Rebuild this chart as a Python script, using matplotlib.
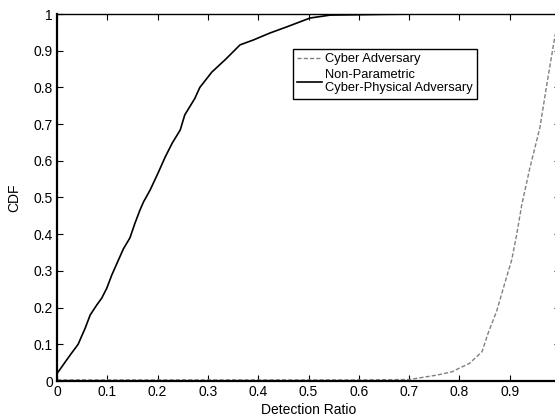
import numpy as np
import matplotlib
matplotlib.use("Agg")
from matplotlib import pyplot as plt
from matplotlib.ticker import FormatStrFormatter

# Non-parametric cyber-physical adversary CDF
cps_x = [0.0, 0.019, 0.029, 0.042, 0.056, 0.066, 0.079, 0.089, 0.099, 0.109,
         0.119, 0.132, 0.145, 0.155, 0.165, 0.172, 0.185, 0.201, 0.215,
         0.229, 0.245, 0.254, 0.274, 0.284, 0.308, 0.334, 0.364, 0.39,
         0.423, 0.457, 0.503, 0.543, 0.60, 0.65, 0.73]
cps_y = [0.02, 0.057, 0.076, 0.10, 0.144, 0.18, 0.207, 0.226, 0.253, 0.289,
         0.32, 0.36, 0.39, 0.43, 0.466, 0.488, 0.52, 0.567, 0.61,
         0.648, 0.684, 0.725, 0.77, 0.80, 0.842, 0.875, 0.916, 0.929,
         0.948, 0.965, 0.989, 0.997, 0.998, 0.999, 1.0]

# Cyber adversary CDF
cyb_x = [0.0, 0.3, 0.6, 0.70, 0.755, 0.785, 0.80, 0.82, 0.845, 0.857, 0.874,
         0.891, 0.904, 0.914, 0.924, 0.94, 0.96, 0.974, 0.99, 1.0]
cyb_y = [0.003, 0.003, 0.003, 0.004, 0.016, 0.025, 0.035, 0.048, 0.08, 0.13,
         0.19, 0.27, 0.33, 0.40, 0.48, 0.58, 0.69, 0.81, 0.94, 1.0]

labels = ["Cyber Adversary", "Non-Parametric\nCyber-Physical Adversary"]

plt.rcParams["font.family"] = ["Liberation Sans", "DejaVu Sans"]
plt.rcParams["font.size"] = 10

fig = plt.figure(figsize=(5.55, 4.19), dpi=100)
ax = fig.add_axes([57 / 555, 38 / 419, 503 / 555, 367 / 419])

ax.plot(cyb_x, cyb_y, color="#808080", linestyle="--", linewidth=1.0,
        dashes=(3, 1.5), label=labels[0])
ax.plot(cps_x, cps_y, color="black", linewidth=1.2, label=labels[1])

ax.set_xlim(0, 1)
ax.set_ylim(0, 1)
ax.set_xticks(np.arange(0, 0.95, 0.1))
ax.set_yticks(np.arange(0, 1.01, 0.1))
ax.xaxis.set_major_formatter(FormatStrFormatter("%g"))
ax.yaxis.set_major_formatter(FormatStrFormatter("%g"))
ax.tick_params(direction="in", top=True, right=True, length=4, pad=3,
               labelsize=10)
ax.spines["left"].set_linewidth(1.6)
ax.spines["bottom"].set_linewidth(1.6)
ax.spines["top"].set_linewidth(1.0)

ax.set_xlabel("Detection Ratio", labelpad=3)
ax.set_ylabel("CDF", labelpad=9)

leg = ax.legend(loc="upper left", bbox_to_anchor=(0.469, 0.905),
                fontsize=9.3, fancybox=False, framealpha=1,
                edgecolor="black", handlelength=1.9, handletextpad=0.25,
                borderpad=0.35, labelspacing=0.25, borderaxespad=0)
leg.get_frame().set_linewidth(1.0)

fig.savefig("out.png", dpi=100)
